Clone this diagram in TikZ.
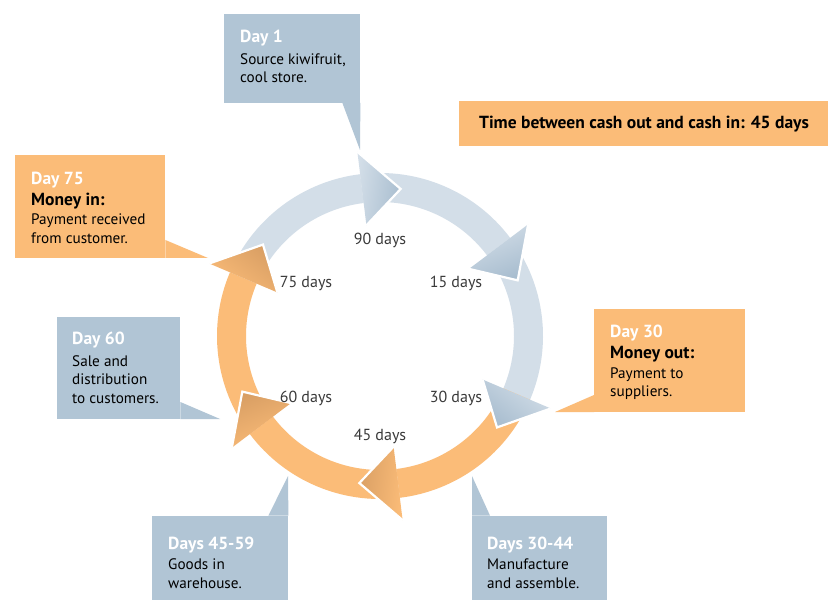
\documentclass[tikz,border=0pt]{standalone}
\usepackage{fontspec}
\setmainfont{PT Sans}
\usetikzlibrary{calc}
\definecolor{bandblue}{HTML}{D3DEE8}
\definecolor{headblue}{HTML}{A8BDCF}
\definecolor{bandorange}{HTML}{FBBC78}
\definecolor{headorange}{HTML}{D99F64}
\definecolor{boxblue}{HTML}{B1C5D5}
\definecolor{boxorange}{HTML}{FBBC78}
\definecolor{ringtext}{HTML}{3A3A3A}
\newcommand{\hd}[1]{{\fontsize{17.5}{18.5}\selectfont\bfseries #1}}
\newcommand{\wh}[1]{\textcolor{white}{\hd{#1}}}
\begin{document}
\begin{tikzpicture}[x=1pt,y=1pt,
  bluebox/.style={fill=boxblue,draw=none,inner sep=0,anchor=south west},
  orangebox/.style={fill=boxorange,draw=none,inner sep=0,anchor=south west},
  boxtext/.style={anchor=base west,inner sep=0,font=\fontsize{15.2}{18.5}\selectfont},
  ringlabel/.style={anchor=base,inner sep=0,text=ringtext,font=\fontsize{16}{18}\selectfont}]
\useasboundingbox (0,0) rectangle (829,600);
\fill[white] (0,0) rectangle (829,600);

% ring
\def\Ro{163}\def\Ri{134}\def\Rm{148.5}\def\Hw{37}
\begin{scope}[shift={(380,264)}]
  % bands
  \foreach \a/\col in {157/bandblue,97/bandblue,37/bandblue,-23/bandorange,-83/bandorange,-143/bandorange}{
    \pgfmathsetmacro{\b}{\a-60}
    \fill[\col] (\a:\Ro) arc[start angle=\a,end angle=\b,radius=\Ro]
      -- (\b:\Ri) arc[start angle=\b,end angle=\a,radius=\Ri] -- cycle;
  }
  % heads
  \foreach \t/\lc/\dc in {82/bandblue/headblue,22/bandblue/headblue,-38/bandblue/headblue,-98/bandorange/headorange,-158/bandorange/headorange,142/bandorange/headorange}{
    \pgfmathsetmacro{\s}{\t+15}
    \pgfmathsetmacro{\ro}{\Rm+\Hw}
    \pgfmathsetmacro{\ri}{\Rm-\Hw}
    \shade[top color=\lc,bottom color=\dc,shading angle=\t]
      (\s:\ro) -- (\t:\Rm) -- (\s:\ri) -- cycle;
    \draw[white,line width=2.2pt,line join=miter] (\s:\ro) -- (\t:\Rm) -- (\s:\ri);
  }
\end{scope}

% ring labels
\node[ringlabel] (l90) at (380,355) {90 days};
\node[ringlabel] (l15) at (456,312) {15 days};
\node[ringlabel] (l30) at (456,198) {30 days};
\node[ringlabel] (l45) at (380,160) {45 days};
\node[ringlabel] (l60) at (306,198) {60 days};
\node[ringlabel] (l75) at (306,312) {75 days};

% callout tips
\coordinate (tip1) at (360,450);
\coordinate (tip75) at (208,342);
\coordinate (tip30) at (555,188);
\coordinate (tip60) at (220,181);
\coordinate (tip4559) at (288,124);
\coordinate (tip3044) at (472,124);

% boxes
\node[bluebox,minimum width=136,minimum height=89] (b1) at (224,497) {};
\fill[boxblue] (b1.south east) -- ++(-18,0) -- (tip1) -- cycle;

\node[orangebox,minimum width=369,minimum height=45] (btime) at (459,454) {};

\node[orangebox,minimum width=150,minimum height=103] (b75) at (15,342) {};
\fill[boxorange] (b75.south east) -- ++(0,18) -- (tip75) -- cycle;

\node[orangebox,minimum width=151,minimum height=103] (b30) at (594,188) {};
\fill[boxorange] (b30.south west) -- ++(0,17) -- (tip30) -- cycle;

\node[bluebox,minimum width=123,minimum height=102] (b60) at (57,181) {};
\fill[boxblue] (b60.south east) -- ++(0,17) -- (tip60) -- cycle;

\node[bluebox,minimum width=136,minimum height=84] (b4559) at (152,0) {};
\fill[boxblue] (b4559.north east) -- ++(-20,0) -- (tip4559) -- cycle;

\node[bluebox,minimum width=135,minimum height=84] (b3044) at (472,0) {};
\fill[boxblue] (b3044.north west) -- ++(18,0) -- (tip3044) -- cycle;

% texts
\node[boxtext] (t1) at (240,557) {\begin{tabular}[t]{@{}l@{}}\wh{Day 1}\\[3pt]Source kiwifruit,\\cool store.\end{tabular}};
\node[anchor=base,inner sep=0,font=\fontsize{17.5}{18}\selectfont\bfseries] (ttime) at (644,471) {Time between cash out and cash in: 45 days};
\node[boxtext] (t75) at (31,415) {\begin{tabular}[t]{@{}l@{}}\wh{Day 75}\\[2.5pt]\hd{Money in:}\\[0.5pt]Payment received\\from customer.\end{tabular}};
\node[boxtext] (t30) at (610,262) {\begin{tabular}[t]{@{}l@{}}\wh{Day 30}\\[2.5pt]\hd{Money out:}\\[1pt]Payment to\\suppliers.\end{tabular}};
\node[boxtext] (t60) at (72,255) {\begin{tabular}[t]{@{}l@{}}\wh{Day 60}\\[3pt]Sale and\\distribution\\to customers.\end{tabular}};
\node[boxtext] (t4559) at (168,51) {\begin{tabular}[t]{@{}l@{}}\wh{Days 45-59}\\[2pt]Goods in\\warehouse.\end{tabular}};
\node[boxtext] (t3044) at (487,51) {\begin{tabular}[t]{@{}l@{}}\wh{Days 30-44}\\[2pt]Manufacture\\and assemble.\end{tabular}};
\end{tikzpicture}
\end{document}
